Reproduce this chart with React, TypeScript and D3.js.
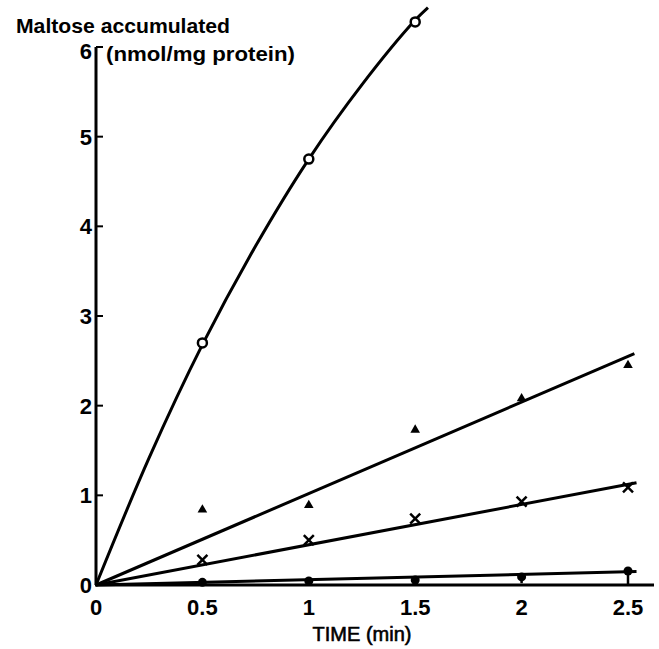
import React from "react";
import * as d3 from "d3";

// values
const timeTicks = [0, 0.5, 1, 1.5, 2, 2.5];
const timeLabels = ["0", "0.5", "1", "1.5", "2", "2.5"];
const yTicks = [0, 1, 2, 3, 4, 5, 6];
const yLabels = ["0", "1", "2", "3", "4", "5", "6"];

const pointTimes = [0.5, 1, 1.5, 2, 2.5];
const openCircleTimes = [0.5, 1, 1.5];
const openCircles = [2.7, 4.75, 6.28];
const triangles = [0.84, 0.89, 1.73, 2.08, 2.45];
const crosses = [0.28, 0.5, 0.74, 0.93, 1.09];
const filledCircles = [0.03, 0.045, 0.055, 0.09, 0.156];
const filledErrLow = [0.03, 0.045, 0.055, 0.02, 0];

// drawn curves
const curveTimes = [0, 0.25, 0.5, 0.75, 1, 1.25, 1.5, 1.56];
const curveValues = [0, 1.42, 2.68, 3.78, 4.75, 5.58, 6.3, 6.44];
const triangleFit: [number, number][] = [[0, 0], [2.53, 2.58]];
const crossFit: [number, number][] = [[0, 0], [2.54, 1.14]];
const filledFit: [number, number][] = [[0, 0], [2.54, 0.15]];

const W = 659;
const H = 649;
const FONT = "'Liberation Sans', Arial, sans-serif";

export default function App() {
  const x = d3.scaleLinear().domain([0, 2.5]).range([96, 628]);
  const y = d3.scaleLinear().domain([0, 6]).range([585, 47]);

  const line = d3
    .line<[number, number]>()
    .x((d) => x(d[0]))
    .y((d) => y(d[1]));
  const smooth = d3
    .line<[number, number]>()
    .x((d) => x(d[0]))
    .y((d) => y(d[1]))
    .curve(d3.curveCatmullRom.alpha(0.5));

  const curvePts = curveTimes.map((t, i) => [t, curveValues[i]] as [number, number]);

  const tri = d3.symbol().type(d3.symbolTriangle).size(40)();

  return (
    <svg
      width={W}
      height={H}
      style={{ position: "absolute", left: 0, top: 0, background: "#fff" }}
      fontFamily={FONT}
    >
      {/* axes */}
      <line x1={x(0)} x2={x(0)} y1={y(6)} y2={y(0)} stroke="#000" strokeWidth={3} />
      <line x1={x(0) - 1} x2={654} y1={y(0)} y2={y(0)} stroke="#000" strokeWidth={3} />
      {yTicks.map((t, i) => (
        <g key={"yt" + i}>
          {t > 0 && (
            <line x1={x(0)} x2={x(0) + 7} y1={y(t)} y2={y(t)} stroke="#000" strokeWidth={2} />
          )}
          <text
            x={x(0) - 4}
            y={t === 6 ? y(t) + 4 : y(t)}
            dy="0.36em"
            textAnchor="end"
            fontSize={22}
            fontWeight="bold"
          >
            {yLabels[i]}
          </text>
        </g>
      ))}
      {timeTicks.map((t, i) => (
        <text
          key={"xt" + i}
          x={x(t)}
          y={615}
          textAnchor="middle"
          fontSize={22}
          fontWeight="bold"
        >
          {timeLabels[i]}
        </text>
      ))}
      <text
        x={x(1.25)}
        y={641}
        textAnchor="middle"
        fontSize={20}
        stroke="#000"
        strokeWidth={0.6}
      >
        TIME (min)
      </text>
      <text
        x={16}
        y={33}
        fontSize={21}
        fontWeight="bold"
        textLength={214}
        lengthAdjust="spacingAndGlyphs"
      >
        Maltose accumulated
      </text>
      <text
        x={106}
        y={61}
        fontSize={21}
        fontWeight="bold"
        textLength={189}
        lengthAdjust="spacingAndGlyphs"
      >
        (nmol/mg protein)
      </text>

      {/* fitted lines */}
      <path d={smooth(curvePts) || ""} fill="none" stroke="#000" strokeWidth={3} />
      <path d={line(triangleFit) || ""} fill="none" stroke="#000" strokeWidth={3} />
      <path d={line(crossFit) || ""} fill="none" stroke="#000" strokeWidth={3} />
      <path d={line(filledFit) || ""} fill="none" stroke="#000" strokeWidth={3} />

      {/* open circles */}
      {openCircleTimes.map((t, i) => (
        <circle
          key={"oc" + i}
          cx={x(t)}
          cy={y(openCircles[i])}
          r={4.5}
          fill="#fff"
          stroke="#000"
          strokeWidth={2.5}
        />
      ))}
      {/* triangles */}
      {pointTimes.map((t, i) => (
        <path
          key={"tr" + i}
          d={tri || ""}
          transform={`translate(${x(t)},${y(triangles[i])})`}
          fill="#000"
        />
      ))}
      {/* crosses */}
      {pointTimes.map((t, i) => {
        const cx = x(t);
        const cy = y(crosses[i]);
        const s = 5;
        return (
          <g key={"cr" + i} stroke="#000" strokeWidth={2.5}>
            <line x1={cx - s} x2={cx + s} y1={cy - s} y2={cy + s} />
            <line x1={cx - s} x2={cx + s} y1={cy + s} y2={cy - s} />
          </g>
        );
      })}
      {/* filled circles with error bars */}
      {pointTimes.map((t, i) => (
        <g key={"fc" + i}>
          {filledErrLow[i] < filledCircles[i] && (
            <line
              x1={x(t)}
              x2={x(t)}
              y1={y(filledCircles[i])}
              y2={y(filledErrLow[i])}
              stroke="#000"
              strokeWidth={2.5}
            />
          )}
          <circle cx={x(t)} cy={y(filledCircles[i])} r={4.5} fill="#000" />
        </g>
      ))}
    </svg>
  );
}
